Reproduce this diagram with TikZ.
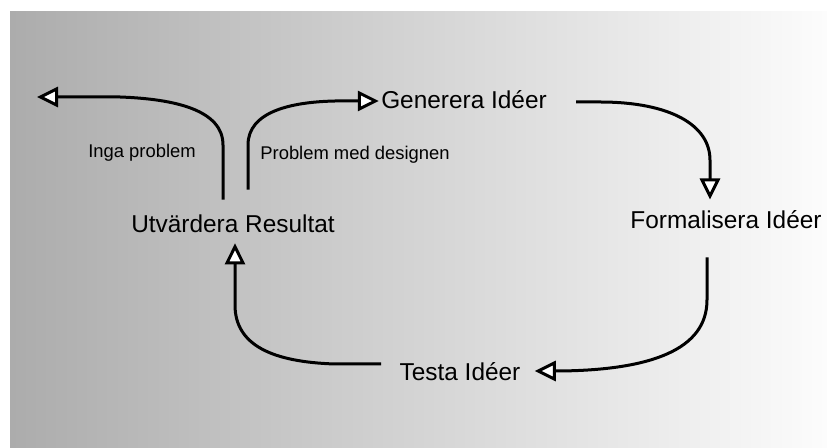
\documentclass[tikz,border=0pt]{standalone}
\usepackage{fontspec}
\setmainfont{Liberation Sans}
\usetikzlibrary{arrows.meta,calc}

\definecolor{bgleft}{RGB}{172,172,172}
\definecolor{bgright}{RGB}{252,252,252}

\begin{document}
\begin{tikzpicture}[x=0.5pt,y=-0.5pt]

    \tikzstyle{stage} = [font=\fontsize{12.2}{14}\selectfont, inner sep=0pt]
    \tikzstyle{ann} = [font=\fontsize{9.2}{11}\selectfont, inner sep=0pt]
    \tikzstyle{flow} = [line width=1.5pt,
        arrows=-{Triangle[length=10.5pt,width=10pt,fill=white]}]

    % Background
    \useasboundingbox (0,0) rectangle (827,448);
    \shade[left color=bgleft, right color=bgright] (10,12) rectangle (827,448);

    % Stages
    \node[stage] (gen) at (464,100) {Generera Idéer};
    \node[stage] (form) at (726,220) {Formalisera Idéer};
    \node[stage] (test) at (460,372) {Testa Idéer};
    \node[stage] (utv) at (233,224) {Utvärdera Resultat};
    \coordinate (done) at (37,97);

    % Branch labels
    \node[ann] (inga) at (142,153) {Inga problem};
    \node[ann] (prob) at (355,155) {Problem med designen};

    % Cycle
    \draw[flow] ($(gen.east)+(29,2)$) -- (600,102) .. controls (670,102)
        and (710,125) .. (710,160) -- ($(form.north)+(-16,-11)$);

    \draw[flow] ($(form.south)+(-19,28)$) -- (707,300) .. controls (707,350)
        and (650,370) .. (560,371) -- ($(test.east)+(14,-1)$);

    \draw[flow] ($(test.west)+(-18,-8)$) -- (335,364) .. controls (272,362)
        and (235,345) .. (235,305) -- ($(utv.south)+(2,10)$);

    % Outcomes
    \draw[flow] ($(utv.north)+(-10,-15)$) -- (223,145) .. controls (223,110)
        and (175,99) .. (120,97) -- (done);

    \draw[flow] ($(utv.north)+(15,-25)$) -- (248,145) .. controls (248,112)
        and (290,102) .. (335,101) -- ($(gen.west)+(-2,1)$);

\end{tikzpicture}
\end{document}
